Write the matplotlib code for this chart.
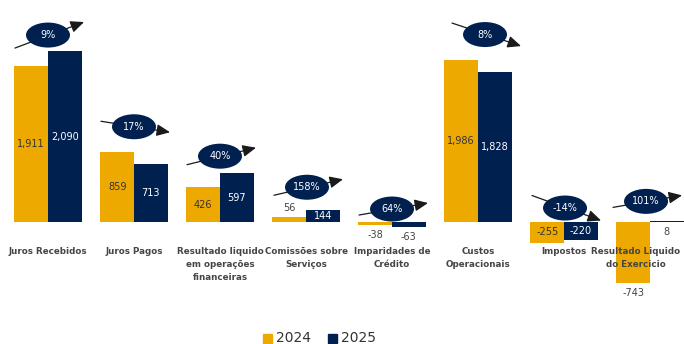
import numpy as np
import matplotlib
matplotlib.use('Agg')
import matplotlib.pyplot as plt
from matplotlib.patches import Ellipse, FancyArrowPatch, Rectangle
from matplotlib import transforms

# Demonstração de resultados, 2024 vs 2025
categories = ['Juros Recebidos', 'Juros Pagos',
              'Resultado liquido\nem operações\nfinanceiras',
              'Comissões sobre\nServiços', 'Imparidades de\nCrédito',
              'Custos\nOperacionais', 'Impostos',
              'Resultado Liquido\ndo Exercicio']
v2024 = [1911, 859, 426, 56, -38, 1986, -255, -743]
v2025 = [2090, 713, 597, 144, -63, 1828, -220, 8]
changes = ['9%', '17%', '40%', '158%', '64%', '8%', '-14%', '101%']
years = ['2024', '2025']

# layout of the change badges (pixels): lift above the tallest bar, x shift, arrow rise
badge_lift = [16, 25, 17, 23, 13, 25, 14, 20]
badge_dx = [0, 0, 0, 1, 0, 7, 1, -4]
arrow_rise = [26, -11, 17, 16, 12, -23, -25, 12]
# category name x shift (pixels), last one kept inside the canvas
name_dx = [0, 0, 0, 0, 0, 0, 0, -14]
# where each value label goes
pos2024 = ['mid', 'mid', 'mid', 'above', 'below', 'mid', 'mid', 'below']
pos2025 = ['mid', 'mid', 'mid', 'mid', 'below', 'mid', 'mid', 'below']

GOLD = '#EDA900'
NAVY = '#00214F'
DARK = '#333333'

fig = plt.figure(figsize=(6.84, 3.44), dpi=100)
ax = fig.add_axes([0, 0, 1, 1])
ax.set_xlim(-0.558, 7.395)
ax.set_ylim(-1491, 2714)
ax.axis('off')

x = np.arange(len(categories))
w = 0.39
bars1 = ax.bar(x - w / 2, v2024, w, color=GOLD, zorder=2)
bars2 = ax.bar(x + w / 2, v2025, w, color=NAVY, zorder=2)


def at(xd, yd):
    # pixel offsets anchored on a data point
    return transforms.ScaledTranslation(xd, yd, ax.transData)


def value_label(xc, v, where, inside_color):
    txt = f'{v:,}'
    if where == 'mid':
        ax.text(xc, v / 2, txt, ha='center', va='center', fontsize=7,
                color=inside_color, zorder=4)
    elif where == 'above':
        ax.text(0, 4, txt, ha='center', va='bottom', fontsize=7,
                color='#444444', transform=at(xc, max(v, 0)), zorder=4)
    else:
        ax.text(0, -5, txt, ha='center', va='top', fontsize=7,
                color='#444444', transform=at(xc, min(v, 0)), zorder=4)


for i in range(len(categories)):
    value_label(x[i] - w / 2, v2024[i], pos2024[i], DARK)
    value_label(x[i] + w / 2, v2025[i], pos2025[i], 'white')

    # category name below the baseline
    ax.text(name_dx[i], -25, categories[i], ha='center', va='top', fontsize=6.3,
            fontweight='bold', color='#454545', linespacing=1.55,
            transform=at(x[i], 0), zorder=5)

    # change badge with arrow behind it
    top = max(v2024[i], v2025[i], 0)
    tr = at(x[i], top)
    cx, cy = badge_dx[i], badge_lift[i]
    r = arrow_rise[i]
    arr = FancyArrowPatch((cx - 33, cy - r / 2), (cx + 36, cy + r / 2),
                          transform=tr, arrowstyle='-|>,head_length=0.9,head_width=0.4',
                          mutation_scale=9, color='#1a1a1a', lw=0.9,
                          shrinkA=0, shrinkB=0, zorder=5)
    ax.add_patch(arr)
    ax.add_patch(Ellipse((cx, cy), 44, 25, transform=tr, facecolor=NAVY,
                         edgecolor='none', zorder=6))
    ax.text(cx, cy, changes[i], ha='center', va='center', fontsize=7,
            color='white', transform=tr, zorder=7)

# legend
for lx, col, label in [(0.3845, GOLD, years[0]), (0.4795, NAVY, years[1])]:
    fig.patches.append(Rectangle((lx, 0.003), 0.0125, 0.025, color=col,
                                 transform=fig.transFigure, figure=fig))
    fig.text(lx + 0.019, 0.016, label, color=DARK, fontsize=10,
             va='center', ha='left')

fig.savefig('out.png', dpi=100)
